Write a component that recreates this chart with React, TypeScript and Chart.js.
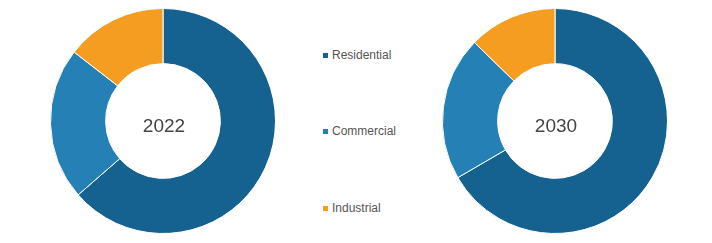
import React, { useEffect, useRef } from "react";
import { Chart, registerables } from "chart.js";

Chart.register(...registerables);

const categories = ["Residential", "Commercial", "Industrial"];
const values2022 = [63.6, 21.9, 14.5];
const values2030 = [66.6, 20.7, 12.7];
const years = ["2022", "2030"];
const colors = ["#15618f", "#2581b5", "#f59d20"];

const centerText = {
  id: "centerText",
  afterDraw(chart: any) {
    const label = chart.options.plugins.centerText?.text;
    if (!label) return;
    const meta = chart.getDatasetMeta(0);
    const arc = meta.data[0];
    if (!arc) return;
    const ctx = chart.ctx;
    ctx.save();
    ctx.font = "19px 'Liberation Sans', Arial, sans-serif";
    ctx.fillStyle = "#444444";
    ctx.textAlign = "center";
    ctx.textBaseline = "middle";
    ctx.fillText(label, arc.x + 1, arc.y + 6);
    ctx.restore();
  },
};

function Donut({ values, year, left }: { values: number[]; year: string; left: number }) {
  const ref = useRef<HTMLCanvasElement | null>(null);
  useEffect(() => {
    if (!ref.current) return;
    const chart = new Chart(ref.current, {
      type: "doughnut",
      data: {
        labels: categories,
        datasets: [
          {
            data: values,
            backgroundColor: colors,
            borderColor: "#ffffff",
            borderWidth: 1,
          },
        ],
      },
      options: {
        responsive: false,
        animation: false,
        cutout: "51%",
        layout: { padding: 0 },
        plugins: {
          legend: { display: false },
          tooltip: { enabled: false },
          centerText: { text: year },
        } as any,
      },
      plugins: [centerText],
    });
    return () => chart.destroy();
  }, [values, year]);
  return (
    <canvas
      ref={ref}
      width={226}
      height={226}
      style={{ position: "absolute", left, top: 8, width: 226, height: 226 }}
    />
  );
}

const legendTops = [55, 131, 208];

export default function App() {
  return (
    <div
      style={{
        position: "fixed",
        left: 0,
        top: 0,
        width: 712,
        height: 243,
        background: "#ffffff",
        overflow: "hidden",
      }}
    >
      <Donut values={values2022} year={years[0]} left={50} />
      <Donut values={values2030} year={years[1]} left={442} />
      {categories.map((c, i) => (
        <div
          key={c}
          style={{
            position: "absolute",
            left: 323,
            top: legendTops[i] - 8,
            height: 16,
            display: "flex",
            alignItems: "center",
            fontFamily: "'Liberation Sans', Arial, sans-serif",
            fontSize: 12,
            color: "#555555",
            whiteSpace: "nowrap",
          }}
        >
          <span
            style={{
              display: "inline-block",
              width: 5,
              height: 5,
              background: colors[i],
              marginRight: 4,
            }}
          />
          {c}
        </div>
      ))}
    </div>
  );
}
